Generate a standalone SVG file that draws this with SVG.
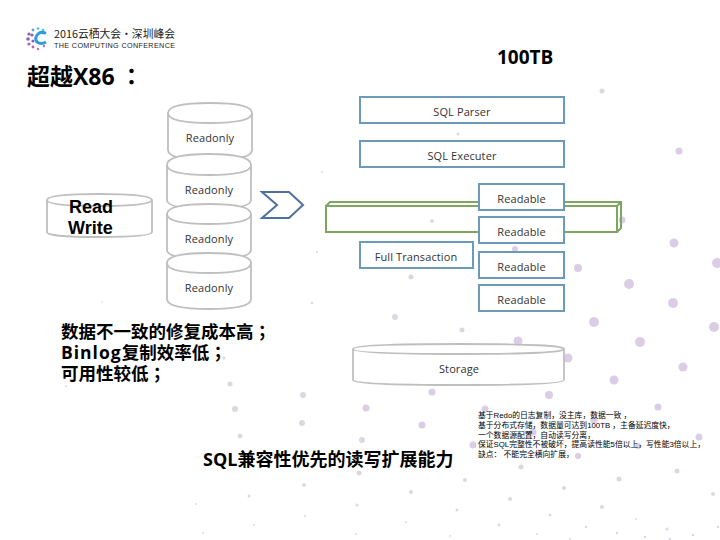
<svg xmlns="http://www.w3.org/2000/svg" width="720" height="540" viewBox="0 0 720 540">
<style>
.cyl{fill:#fff;stroke:#bfbfbf;stroke-width:1.8}
.box{fill:#fff;stroke:#6b9aba;stroke-width:2}
.lb{font-family:"Open Sans","Noto Sans CJK SC",sans-serif;font-size:11px;fill:#333;text-anchor:middle;letter-spacing:.1px}
.hd{font-family:"Open Sans","Noto Sans CJK SC",sans-serif;font-weight:700;fill:#000}
.rw{font-family:"Liberation Sans",sans-serif;font-weight:700;font-size:18px;fill:#000}
.pn{font-family:"Noto Sans CJK TC",sans-serif}
.sm{font-family:"Liberation Sans","Noto Sans CJK SC",sans-serif;font-size:7.8px;fill:#000}
.d1 circle{fill:#dccde6}
.d2 circle{fill:#dcd8e2}
</style>
<rect width="720" height="540" fill="#fff"/>
<g id="background-dots">
<g class="d1">
<circle cx="679" cy="151" r="3.5"/><circle cx="622" cy="220" r="3.5"/><circle cx="674" cy="243" r="4.5"/><circle cx="717" cy="263" r="5"/><circle cx="578" cy="268" r="4"/><circle cx="629" cy="284" r="5"/><circle cx="673" cy="303" r="5"/><circle cx="714" cy="327" r="5"/><circle cx="594" cy="322" r="5"/><circle cx="640" cy="342" r="5"/><circle cx="518" cy="341" r="4.5"/><circle cx="568" cy="358" r="4.5"/><circle cx="683" cy="367" r="4.5"/><circle cx="614" cy="380" r="4.5"/><circle cx="549" cy="395" r="4"/><circle cx="658" cy="407" r="3.5"/><circle cx="485" cy="409" r="3.5"/><circle cx="594" cy="420" r="3.5"/><circle cx="533" cy="432" r="3.5"/><circle cx="473" cy="445" r="3.5"/><circle cx="699" cy="437" r="3.5"/><circle cx="638" cy="446" r="3"/><circle cx="578" cy="456" r="3"/><circle cx="432" cy="392" r="3.5"/><circle cx="366" cy="408" r="3.5"/><circle cx="422" cy="425" r="3.5"/><circle cx="515" cy="249" r="3"/>
</g>
<g class="d2">
<circle cx="602" cy="91" r="2.5"/><circle cx="458" cy="134" r="1.5"/><circle cx="322" cy="172" r="1"/><circle cx="432" cy="221" r="2"/><circle cx="317" cy="252" r="1"/><circle cx="411" cy="277" r="2.5"/><circle cx="312" cy="303" r="1.2"/><circle cx="395" cy="317" r="3"/><circle cx="462" cy="330" r="2.5"/><circle cx="102" cy="302" r=".8"/><circle cx="224" cy="358" r="1.5"/><circle cx="66" cy="386" r="1"/><circle cx="230" cy="384" r="2.5"/><circle cx="303" cy="395" r="3"/><circle cx="235" cy="409" r="3"/><circle cx="302" cy="423" r="3"/><circle cx="240" cy="436" r="2.5"/><circle cx="362" cy="440" r="3"/><circle cx="359" cy="473" r="2.5"/><circle cx="521" cy="467" r="2.5"/><circle cx="465" cy="480" r="2"/><circle cx="677" cy="471" r="2.5"/><circle cx="619" cy="479" r="2.5"/><circle cx="564" cy="488" r="2"/><circle cx="510" cy="499" r="2"/><circle cx="713" cy="494" r="2"/><circle cx="602" cy="507" r="2"/><circle cx="457" cy="510" r="1.5"/><circle cx="550" cy="515" r="1.5"/><circle cx="499" cy="525" r="1.5"/><circle cx="636" cy="519" r="1"/><circle cx="586" cy="527" r="1.2"/><circle cx="667" cy="529" r="1.5"/><circle cx="537" cy="534" r="1"/><circle cx="617" cy="533" r="1.2"/><circle cx="450" cy="536" r="1"/><circle cx="693" cy="535" r="1.2"/><circle cx="718" cy="527" r="1.2"/><circle cx="570" cy="539" r="1"/><circle cx="645" cy="537" r="1.2"/><circle cx="670" cy="539" r="1.2"/><circle cx="304" cy="485" r="2"/><circle cx="249" cy="496" r="1.5"/><circle cx="411" cy="492" r="2"/><circle cx="196" cy="504" r="1"/><circle cx="357" cy="505" r="1.5"/><circle cx="305" cy="516" r="1"/><circle cx="254" cy="525" r="1"/><circle cx="406" cy="522" r="1"/><circle cx="203" cy="533" r="1"/><circle cx="356" cy="534" r="1"/>
</g>
</g>
<g id="logo">
<g fill="#8a5fb5"><circle cx="29" cy="34" r="1.6"/><circle cx="33" cy="30" r="1.4" fill="#5aa7d8"/><circle cx="38" cy="28.500" r="1.3" fill="#4cc1d8"/><circle cx="43" cy="30" r="1.3" fill="#4cc1d8"/><circle cx="28" cy="39" r="1.8"/><circle cx="32" cy="35" r="1.6"/><circle cx="29" cy="44" r="1.6" fill="#b060b8"/><circle cx="33" cy="41" r="1.6"/><circle cx="33" cy="47" r="1.4" fill="#c060a8"/><circle cx="38" cy="49" r="1.2" fill="#c86aa0"/></g>
<path d="M46 33.500Q41 31 38 34Q34 38 37 42Q41 45 46 42" fill="none" stroke="#2f9ed8" stroke-width="3"/>
<circle cx="44" cy="46" r="1.2" fill="#9a7ac0"/>
<text x="54" y="38" font-family="'Noto Sans CJK SC',sans-serif" font-size="11" fill="#222" textLength="121" lengthAdjust="spacingAndGlyphs">2016云栖大会·深圳峰会</text>
<text x="54" y="48" font-family="'Liberation Sans',sans-serif" font-size="7.2" fill="#222" textLength="121">THE COMPUTING CONFERENCE</text>
</g>
<text id="title" class="hd" x="27" y="85" font-size="23">超越X86<tspan class="pn" x="120">：</tspan></text>
<text id="capacity" class="hd" x="497" y="64" font-size="19">100TB</text>
<g id="connectors">
<path id="chevron" d="M262 192H289L303 205L289 218H262L277 205Z" fill="none" stroke="#4f6f9f" stroke-width="2"/>
</g>
<g id="read-write">
<path class="cyl" d="M47 200Q47 194 99 194T152 200V232Q152 237 99 237T47 232Z"/>
<path class="cyl" fill="none" d="M47 200Q47 206 99 206T152 200"/>
<text class="rw" x="69" y="213">Read</text>
<text class="rw" x="68" y="234">Write</text>
</g>
<g id="readonly-1">
<path class="cyl" d="M168 113Q168 103 210 103T252 113V150Q252 160 210 160T168 150Z"/>
<path class="cyl" d="M168 113Q168 123 210 123T252 113"/>
<text class="lb" x="210" y="142">Readonly</text>
</g>
<g id="readonly-2">
<path class="cyl" d="M167 165Q167 154 209 154T251 165V200Q251 209 209 209T167 200Z"/>
<path class="cyl" d="M167 165Q167 175 209 175T251 165"/>
<text class="lb" x="209" y="194">Readonly</text>
</g>
<g id="readonly-3">
<path class="cyl" d="M167 214Q167 204 209 204T251 214V250Q251 259 209 259T167 250Z"/>
<path class="cyl" d="M167 214Q167 224 209 224T251 214"/>
<text class="lb" x="209" y="243">Readonly</text>
</g>
<g id="readonly-4">
<path class="cyl" d="M167 263Q167 253 209 253T251 263V299Q251 309 209 309T167 299Z"/>
<path class="cyl" d="M167 263Q167 273 209 273T251 263"/>
<text class="lb" x="209" y="292">Readonly</text>
</g>
<g id="sql-parser"><rect class="box" x="360" y="97" width="204" height="26"/><text class="lb" x="462" y="116">SQL Parser</text></g>
<g id="sql-executer"><rect class="box" x="360" y="141" width="204" height="26"/><text class="lb" x="462" y="160">SQL Executer</text></g>
<g id="shared-layer" fill="none" stroke="#7fa661" stroke-width="2">
<path d="M326 206H617V232H326Z"/>
<path d="M326 206L330 202H621V228L617 232M617 206L621 202"/>
</g>
<g id="full-transaction"><rect class="box" x="360" y="242" width="113" height="26"/><text class="lb" x="416" y="261">Full Transaction</text></g>
<g id="readable-1"><rect class="box" x="479" y="184" width="85" height="26"/><text class="lb" x="521.500" y="203">Readable</text></g>
<g id="readable-2"><rect class="box" x="479" y="217" width="85" height="26"/><text class="lb" x="521.500" y="236">Readable</text></g>
<g id="readable-3"><rect class="box" x="479" y="252" width="85" height="26"/><text class="lb" x="521.500" y="271">Readable</text></g>
<g id="readable-4"><rect class="box" x="479" y="285" width="85" height="26"/><text class="lb" x="521.500" y="304">Readable</text></g>
<g id="storage">
<path class="cyl" d="M353 349Q353 344 459 344T564 349V380Q564 385 459 385T353 380Z" style="fill:none"/>
<path class="cyl" style="fill:none" d="M353 349Q353 354 459 354T564 349"/>
<text class="lb" x="459" y="373">Storage</text>
</g>
<text id="problems" class="hd" font-size="17.500"><tspan x="61" y="338">数据不一致的修复成本高</tspan><tspan class="pn">；</tspan><tspan x="61" y="359" letter-spacing="1">Binlog</tspan><tspan>复制效率低</tspan><tspan class="pn">；</tspan><tspan x="61" y="380">可用性较低</tspan><tspan class="pn">；</tspan></text>
<text id="summary" class="hd" x="203" y="466" font-size="18">SQL兼容性优先的读写扩展能力</text>
<g id="notes" class="sm">
<text x="478" y="418">基于Redo的日志复制，没主库，数据一致 ，</text>
<text x="478" y="428">基于分布式存储，数据量可达到100TB ，主备延迟度快，</text>
<text x="478" y="438">一个数据源配置，自动读写分离，</text>
<text x="478" y="447">保证SQL完整性不被破坏，提高读性能5倍以上，写性能3倍以上，</text>
<text x="478" y="457">缺点：  不能完全横向扩展，</text>
</g>
</svg>
